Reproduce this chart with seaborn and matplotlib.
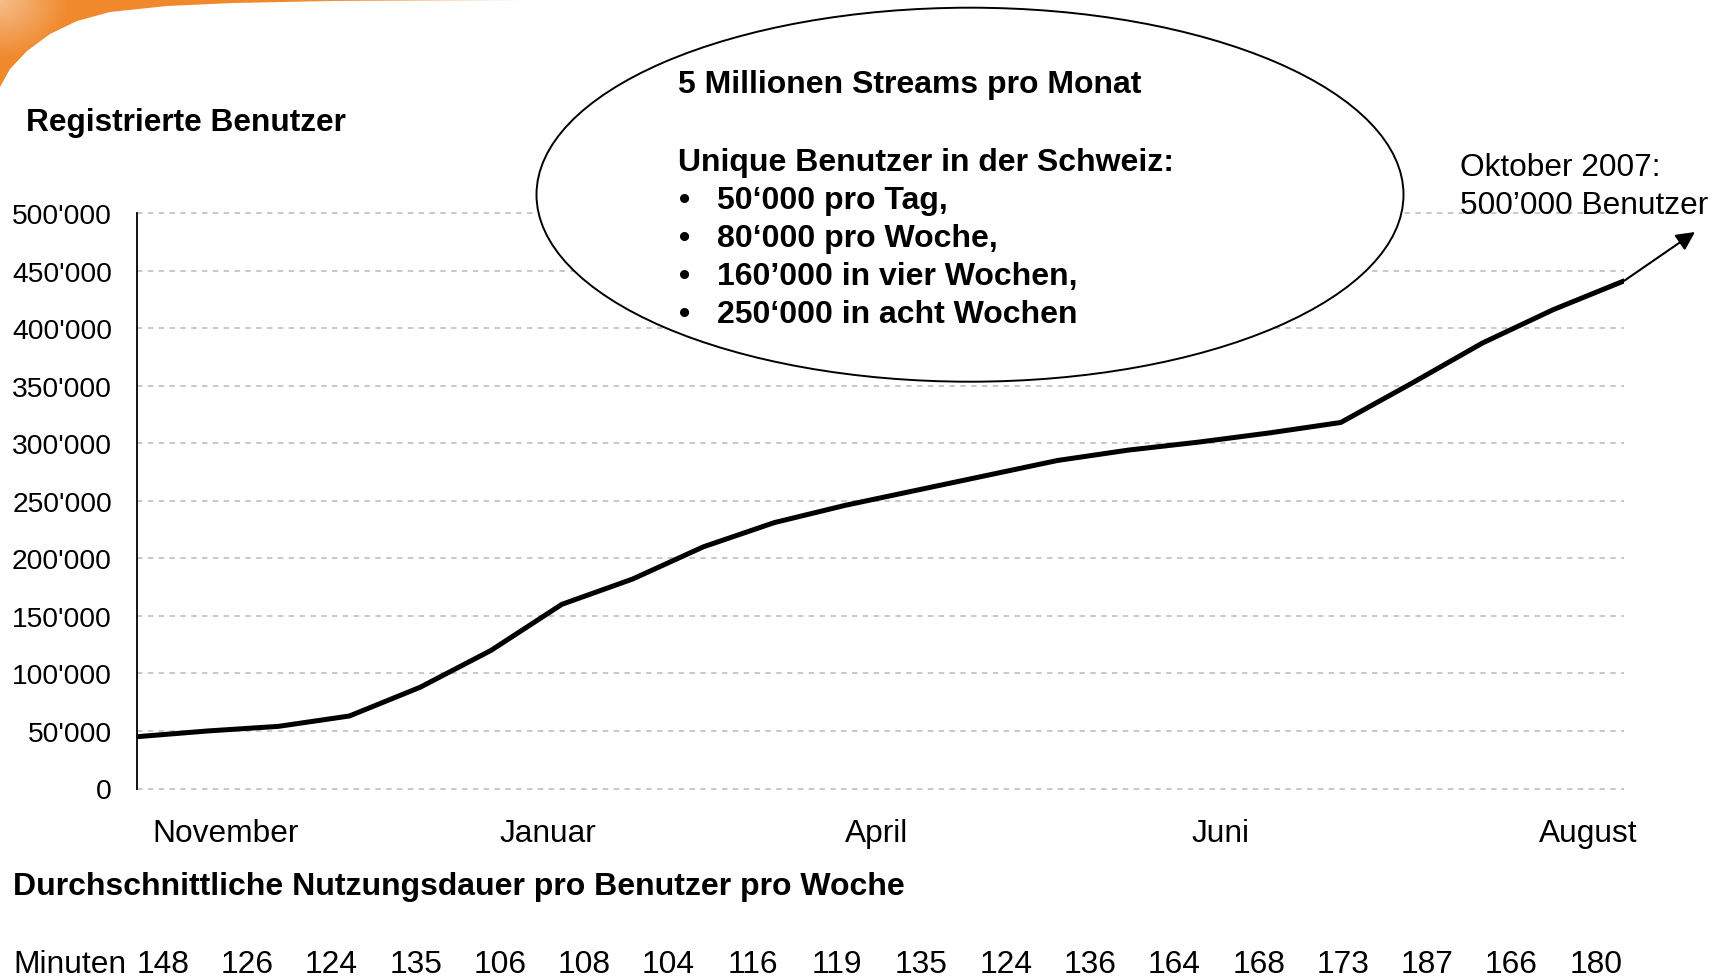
import matplotlib
matplotlib.use('Agg')
import matplotlib.pyplot as plt
import matplotlib.ticker as mticker
from matplotlib.patches import Ellipse, Polygon
import seaborn as sns
import pandas as pd
import numpy as np

# ================================================ DATA ===============================================================

# registered users, one point every two weeks
weeks = list(range(22))
users = [45000, 50000, 54000, 63000, 88000, 120000, 160000, 182000, 210000, 231000, 246000,
         259000, 272000, 285000, 294000, 301000, 309000, 318000, 352000, 387000, 416000, 441000]

month_labels = ['November', 'Januar', 'April', 'Juni', 'August']
month_pos = [1.25, 5.8, 10.45, 15.3, 20.5]

y_ticks = [0, 50000, 100000, 150000, 200000, 250000, 300000, 350000, 400000, 450000, 500000]

minutes = [148, 126, 124, 135, 106, 108, 104, 116, 119, 135, 124, 136, 164, 168, 173, 187, 166, 180]

box_title = '5 Millionen Streams pro Monat'
box_sub = 'Unique Benutzer in der Schweiz:'
box_items = ['50‘000 pro Tag,', '80‘000 pro Woche,', '160’000 in vier Wochen,', '250‘000 in acht Wochen']

# ================================================ FIGURE =============================================================

W, H = 1724, 978
sns.set_style('white')
plt.rcParams['font.family'] = ['Liberation Sans', 'DejaVu Sans']
plt.rcParams['text.color'] = 'black'
plt.rcParams['xtick.color'] = 'black'
plt.rcParams['ytick.color'] = 'black'


def fx(px):
    return px / W


def fy(py):
    return 1 - py / H


fig = plt.figure(figsize=(W / 100, H / 100), dpi=100)
ax = fig.add_axes([fx(137), fy(789.5), fx(1624) - fx(137), fy(214) - fy(789.5)])

df = pd.DataFrame({'week': weeks, 'users': users})
sns.lineplot(data=df, x='week', y='users', ax=ax, color='black', lw=3.6, zorder=5)

ax.set_xlim(0, 21)
ax.set_ylim(0, 500000)
ax.set_yticks(y_ticks)
ax.yaxis.set_major_formatter(mticker.FuncFormatter(lambda v, p: f'{int(v):,}'.replace(',', "'")))
ax.set_xticks(month_pos)
ax.set_xticklabels(month_labels)
ax.set_xlabel('')
ax.set_ylabel('')
for y in y_ticks:
    ax.axhline(y, color='#c4c4c4', lw=1.3, ls=(0, (3, 3)), zorder=1, clip_on=False)
for s in ['top', 'right', 'bottom']:
    ax.spines[s].set_visible(False)
ax.spines['left'].set_color('black')
ax.spines['left'].set_linewidth(1.3)
ax.tick_params(axis='y', direction='in', length=7, width=1.3, color='black', pad=18, labelsize=20.3)
ax.tick_params(axis='x', length=0, pad=21, labelsize=22.8)

# arrow towards October 2007
ax.annotate('', xy=(1695, H - 233), xycoords='figure pixels',
            xytext=(weeks[-1], users[-1]), textcoords='data',
            arrowprops=dict(arrowstyle='-|>', color='black', lw=1.5, mutation_scale=28,
                            shrinkA=0, shrinkB=0))
fig.text(fx(1460), fy(168), 'Oktober 2007:', fontsize=22.8, va='center', ha='left')
fig.text(fx(1460), fy(206), '500’000 Benutzer', fontsize=22.8, va='center', ha='left')

# orange decoration in the top-left corner (gradient clipped to the swoosh shape)
deco = fig.add_axes([0, fy(110), fx(760), 110 / H])
deco.set_axis_off()
deco.set_xlim(0, 760)
deco.set_ylim(110, 0)
gx, gy = np.meshgrid(np.arange(760), np.arange(110))
orange = np.array([240, 136, 44]) / 255
corner = np.clip(1 - np.sqrt((gx / 70.0) ** 2 + (gy / 60.0) ** 2), 0, 1) * 0.45
fade = np.clip((gx - 280) / 420.0, 0, 1) * 0.7
mix = np.clip(corner + fade, 0, 1)[..., None]
img = orange * (1 - mix) + np.ones(3) * mix
im = deco.imshow(img, extent=(0, 760, 110, 0), aspect='auto', interpolation='bilinear')
swoosh = [(0, 0), (720, 0), (560, 0.8), (333, 2), (233, 4), (167, 7), (110, 13), (77, 22),
          (50, 35), (27, 52), (10, 70), (0, 88)]
clip = Polygon(swoosh, closed=True, transform=deco.transData, facecolor='none', edgecolor='none')
deco.add_patch(clip)
im.set_clip_path(clip)

# bubble with stream numbers
fig.add_artist(Ellipse((fx(970), fy(195.7)), 867 / W, 374 / H, transform=fig.transFigure,
                       facecolor='white', edgecolor='black', lw=1.4))
fig.text(fx(678), fy(85), box_title, fontsize=23, fontweight='bold', va='center', ha='left')
fig.text(fx(678), fy(162.5), box_sub, fontsize=23, fontweight='bold', va='center', ha='left')
for i, item in enumerate(box_items):
    yy = 201 + i * 38.1
    fig.text(fx(679), fy(yy), '•', fontsize=23, fontweight='bold', va='center', ha='left')
    fig.text(fx(717), fy(yy), item, fontsize=23, fontweight='bold', va='center', ha='left')

# headings
fig.text(fx(26), fy(123), 'Registrierte Benutzer', fontsize=22.8, fontweight='bold', va='center', ha='left')
fig.text(fx(13), fy(887), 'Durchschnittliche Nutzungsdauer pro Benutzer pro Woche', fontsize=23,
         fontweight='bold', va='center', ha='left')

# minutes row
fig.text(fx(13), fy(965), 'Minuten', fontsize=22.9, va='center', ha='left')
for i, m in enumerate(minutes):
    fig.text(fx(162.7 + i * 84.3), fy(965), str(m), fontsize=22.9, va='center', ha='center')

fig.savefig('out.png', dpi=100, facecolor='white')
